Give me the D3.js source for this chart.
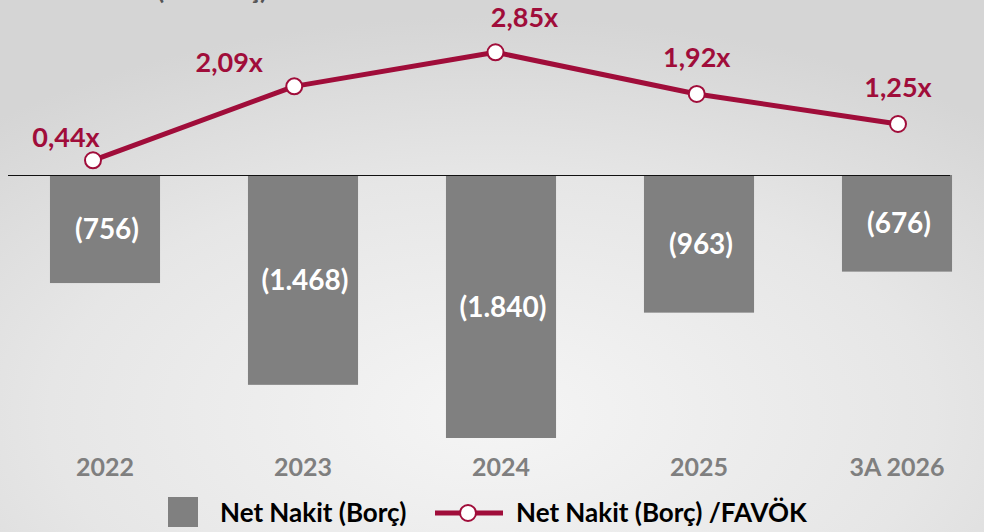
<!DOCTYPE html>
<html>
<head>
<meta charset="utf-8">
<script src="https://cdn.jsdelivr.net/npm/d3@7"></script>
<style>
    html, body { margin: 0; padding: 0; overflow: hidden; }
    body { width: 984px; height: 532px; }
    text { font-family: Lato, "Open Sans", sans-serif; font-weight: bold; }
</style>
</head>
<body>
<script>
    // Data
    let years = ["2022", "2023", "2024", "2025", "3A 2026"];
    let netCash = [-756, -1468, -1840, -963, -676];
    let leverage = [0.44, 2.09, 2.85, 1.92, 1.25];
    let legendLabels = ["Net Nakit (Borç)", "Net Nakit (Borç) /FAVÖK"];

    // label nudges (layout only)
    let lvlDx = [-27, -65, 29, 0, 0];
    let lvlDy = [-23, -24, -35, -37, -37];

    let width = 984, height = 532;
    let red = "#a00d3a";
    let gray = "#808080";

    let svg = d3.select("body").append("svg")
        .attr("width", width)
        .attr("height", height);

    // background
    let defs = svg.append("defs");
    let grad = defs.append("radialGradient")
        .attr("id", "bg")
        .attr("cx", "50%").attr("cy", "78%")
        .attr("r", "75%");
    grad.append("stop").attr("offset", "0%").attr("stop-color", "#f5f5f5");
    grad.append("stop").attr("offset", "60%").attr("stop-color", "#e6e6e6");
    grad.append("stop").attr("offset", "100%").attr("stop-color", "#d5d5d5");
    svg.append("rect").attr("width", width).attr("height", height).attr("fill", "url(#bg)");

    // title, mostly above the top edge as in the reference
    svg.append("text")
        .attr("x", 157)
        .attr("y", -1)
        .attr("font-size", 26)
        .attr("fill", "#555")
        .text("(mn Borç) Net Nakit / FAVÖK");

    let locale = d3.formatLocale({ decimal: ",", thousands: ".", grouping: [3], currency: ["", ""] });
    let fmtInt = locale.format(",d");
    let fmtX = locale.format(",.2f");

    // Scales
    let x = d3.scaleBand()
        .domain(years)
        .range([6, 996])
        .paddingInner(0.444)
        .paddingOuter(0.222);

    let yBar = d3.scaleLinear()
        .domain([0, -1840])
        .range([175, 438]);

    let xLine = d3.scalePoint()
        .domain(years)
        .range([93, 898]);

    let yLine = d3.scaleLinear()
        .domain([0, 3])
        .range([180, 45.6]);

    // Bars
    svg.selectAll("rect.bar")
        .data(netCash)
        .enter()
        .append("rect")
        .attr("class", "bar")
        .attr("x", (d, i) => x(years[i]))
        .attr("y", yBar(0))
        .attr("width", x.bandwidth())
        .attr("height", d => yBar(d) - yBar(0))
        .attr("fill", gray);

    // zero line
    svg.append("line")
        .attr("x1", 8).attr("x2", 950)
        .attr("y1", yBar(0) + 0.5).attr("y2", yBar(0) + 0.5)
        .attr("stroke", "#111")
        .attr("stroke-width", 1);

    // bar labels
    svg.selectAll("text.barlbl")
        .data(netCash)
        .enter()
        .append("text")
        .attr("class", "barlbl")
        .attr("x", (d, i) => x(years[i]) + x.bandwidth() / 2 + 2)
        .attr("y", d => (yBar(0) + yBar(d)) / 2 + 10)
        .attr("text-anchor", "middle")
        .attr("font-size", 28)
        .attr("fill", "#fff")
        .text(d => "(" + fmtInt(Math.abs(d)) + ")");

    // category labels
    svg.selectAll("text.cat")
        .data(years)
        .enter()
        .append("text")
        .attr("class", "cat")
        .attr("x", d => x(d) + x.bandwidth() / 2)
        .attr("y", 476)
        .attr("text-anchor", "middle")
        .attr("font-size", 25)
        .attr("fill", "#7f7f7f")
        .text(d => d);

    // Line
    let line = d3.line()
        .x((d, i) => xLine(years[i]))
        .y(d => yLine(d));

    svg.append("path")
        .datum(leverage)
        .attr("d", line)
        .attr("fill", "none")
        .attr("stroke", red)
        .attr("stroke-width", 5)
        .attr("stroke-linejoin", "round");

    svg.selectAll("circle.pt")
        .data(leverage)
        .enter()
        .append("circle")
        .attr("class", "pt")
        .attr("cx", (d, i) => xLine(years[i]))
        .attr("cy", d => yLine(d))
        .attr("r", 8)
        .attr("fill", "#fff")
        .attr("stroke", red)
        .attr("stroke-width", 2);

    svg.selectAll("text.linelbl")
        .data(leverage)
        .enter()
        .append("text")
        .attr("class", "linelbl")
        .attr("x", (d, i) => xLine(years[i]) + lvlDx[i])
        .attr("y", (d, i) => yLine(d) + lvlDy[i] + 10)
        .attr("text-anchor", "middle")
        .attr("font-size", 27)
        .attr("fill", red)
        .text(d => fmtX(d) + "x");

    // Legend
    let lg = svg.append("g");
    lg.append("rect")
        .attr("x", 168).attr("y", 497)
        .attr("width", 30).attr("height", 30)
        .attr("fill", gray);
    lg.append("text")
        .attr("x", 220).attr("y", 522)
        .attr("font-size", 26)
        .attr("fill", "#000")
        .text(legendLabels[0]);
    lg.append("line")
        .attr("x1", 435).attr("x2", 503)
        .attr("y1", 513).attr("y2", 513)
        .attr("stroke", red)
        .attr("stroke-width", 5);
    lg.append("circle")
        .attr("cx", 468).attr("cy", 513)
        .attr("r", 8)
        .attr("fill", "#fff")
        .attr("stroke", red)
        .attr("stroke-width", 2);
    lg.append("text")
        .attr("x", 516).attr("y", 522)
        .attr("font-size", 26)
        .attr("fill", "#000")
        .text(legendLabels[1]);
</script>
</body>
</html>
